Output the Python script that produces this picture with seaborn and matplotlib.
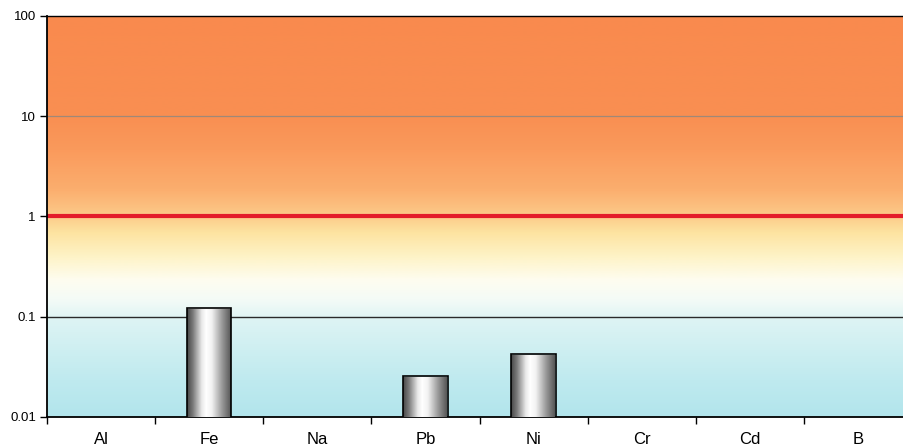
import numpy as np
import pandas as pd
import matplotlib
matplotlib.use("Agg")
import matplotlib.pyplot as plt
from matplotlib.colors import LinearSegmentedColormap
from matplotlib.ticker import FixedLocator, FixedFormatter, NullLocator
import seaborn as sns

# Measured ratios per element (None = below detection, no bar)
elements = ["Al", "Fe", "Na", "Pb", "Ni", "Cr", "Cd", "B"]
ratios = [None, 0.122, None, 0.0256, 0.0425, None, None, None]
limit_value = 1.0
y_ticks = [100, 10, 1, 0.1, 0.01]
y_tick_labels = ["100", "10", "1", "0.1", "0.01"]

df = pd.DataFrame({"element": elements, "ratio": ratios}).dropna()

sns.set_theme(style="white")
plt.rcParams["font.family"] = ["Liberation Sans", "DejaVu Sans"]

fig = plt.figure(figsize=(9.04, 4.48), dpi=100)
ax = fig.add_axes([0.052, 0.0692, 0.957, 0.8951])

sns.barplot(data=df, x="element", y="ratio", order=elements, width=0.41,
            color="#bbbbbb", edgecolor="black", linewidth=1.2,
            errorbar=None, ax=ax, zorder=3)

ax.set_yscale("log")
ax.set_ylim(0.01, 100)
ax.set_xlim(-0.5, len(elements) - 0.5)
ax.set_autoscale_on(False)

# Background: vertical colour wash from cyan (low) through white to orange (high)
stops = [
    (0.000, "#b2e5ec"),
    (0.090, "#bfeaef"),
    (0.240, "#ddf4f4"),
    (0.292, "#f4fbf7"),
    (0.340, "#fefdf0"),
    (0.400, "#fef3c6"),
    (0.460, "#fde3a0"),
    (0.505, "#fcc887"),
    (0.566, "#fbae6e"),
    (0.666, "#fa9a5c"),
    (0.748, "#f98f52"),
    (1.000, "#f98a4e"),
]
bg_cmap = LinearSegmentedColormap.from_list("bg", stops)
grad = np.linspace(0, 1, 512).reshape(-1, 1)
ax.imshow(grad, cmap=bg_cmap, origin="lower", aspect="auto",
          extent=[0, 1, 0, 1], transform=ax.transAxes, zorder=0,
          interpolation="bilinear")

# Cylinder shading for each bar
cyl = LinearSegmentedColormap.from_list(
    "cyl", [(0.0, "#4a4a4a"), (0.12, "#7a7a7a"), (0.32, "#e8e8e8"),
            (0.42, "#ffffff"), (0.55, "#f2f2f2"), (0.78, "#9a9a9a"),
            (1.0, "#505050")])
hgrad = np.linspace(0, 1, 256).reshape(1, -1)
for patch in ax.patches:
    x0 = patch.get_x()
    w = patch.get_width()
    h = patch.get_height()
    if not np.isfinite(h) or h <= 0:
        continue
    patch.set_facecolor("none")
    patch.set_zorder(4)
    im = ax.imshow(hgrad, cmap=cyl, aspect="auto",
                   extent=[x0, x0 + w, 0.01, h], zorder=3,
                   interpolation="bilinear")
    im.set_clip_path(patch)

# Grid lines and the limit line
ax.axhline(10, color="#a08878", lw=0.9, zorder=1)
ax.axhline(0.1, color="#2a2a2a", lw=1.0, zorder=1)
ax.axhline(limit_value, color="#e31c2a", lw=3.0, zorder=2)

# Axes styling
for side in ["left", "bottom", "top"]:
    ax.spines[side].set_visible(True)
    ax.spines[side].set_color("black")
    ax.spines[side].set_linewidth(1.3)
ax.spines["right"].set_visible(False)
ax.spines["top"].set_linewidth(1.0)
ax.spines["top"].set_zorder(5)

ax.yaxis.set_major_locator(FixedLocator(y_ticks))
ax.yaxis.set_major_formatter(FixedFormatter(y_tick_labels))
ax.yaxis.set_minor_locator(NullLocator())
ax.tick_params(axis="y", which="major", direction="out", length=5, width=1,
               color="black", left=True, pad=3, labelsize=9.5,
               labelcolor="black")

ax.set_xticks(np.arange(len(elements)))
ax.set_xticklabels(elements)
ax.set_xticks(np.arange(-0.5, len(elements), 1), minor=True)
ax.tick_params(axis="x", which="major", length=0, pad=10.5, labelsize=12,
               labelcolor="black")
ax.tick_params(axis="x", which="minor", direction="out", length=5, width=1,
               color="black", bottom=True)

ax.set_xlabel("")
ax.set_ylabel("")

fig.savefig("out.png", dpi=100)
